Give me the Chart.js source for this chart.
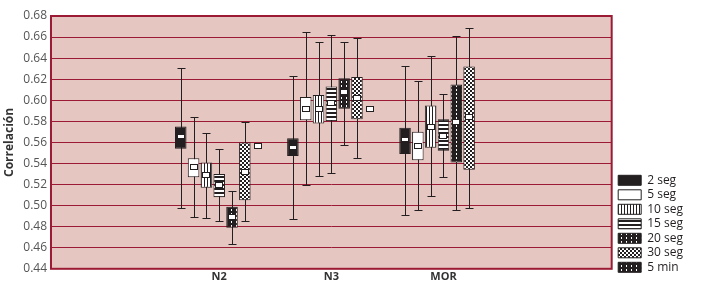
<!DOCTYPE html>
<html>
<head>
<meta charset="utf-8">
<script src="https://cdn.jsdelivr.net/npm/chart.js@4"></script>
<style>
  html, body { margin: 0; padding: 0; background: #fff; }
  #wrap { width: 710px; height: 304px; }
</style>
</head>
<body>
<div id="wrap"><canvas id="c" width="710" height="304"></canvas></div>
<script>
// categories (first and last are empty slots)
const categories = ["", "N2", "N3", "MOR", ""];
const seriesNames = ["2 seg", "5 seg", "10 seg", "15 seg", "20 seg", "30 seg", "5 min"];

// values per series for N2, N3, MOR
const minVals = [
  [0.498, 0.487, 0.491],
  [0.489, 0.520, 0.496],
  [0.488, 0.528, 0.509],
  [0.485, 0.531, 0.527],
  [0.464, 0.558, 0.496],
  [0.485, 0.545, 0.498],
  [null, null, null]
];
const q1Vals = [
  [0.554, 0.547, 0.549],
  [0.527, 0.581, 0.543],
  [0.517, 0.578, 0.555],
  [0.508, 0.580, 0.552],
  [0.479, 0.592, 0.541],
  [0.505, 0.582, 0.534],
  [null, null, null]
];
const medVals = [
  [0.565, 0.555, 0.562],
  [0.537, 0.592, 0.557],
  [0.529, 0.592, 0.575],
  [0.520, 0.597, 0.566],
  [0.489, 0.608, 0.579],
  [0.532, 0.602, 0.584],
  [0.557, 0.592, null]
];
const q3Vals = [
  [0.575, 0.564, 0.574],
  [0.545, 0.603, 0.570],
  [0.541, 0.605, 0.595],
  [0.530, 0.613, 0.582],
  [0.499, 0.621, 0.615],
  [0.560, 0.622, 0.632],
  [null, null, null]
];
const maxVals = [
  [0.631, 0.623, 0.633],
  [0.584, 0.665, 0.618],
  [0.569, 0.655, 0.642],
  [0.554, 0.662, 0.606],
  [0.514, 0.655, 0.661],
  [0.579, 0.659, 0.669],
  [null, null, null]
];
const yTicks = [0.44, 0.68, 0.02];

const canvas = document.getElementById("c");
const ctx = canvas.getContext("2d");
const DARK = "#231f20";

// pattern helper
function tile(w, h, draw) {
  const t = document.createElement("canvas");
  t.width = w; t.height = h;
  const g = t.getContext("2d");
  g.fillStyle = "#fff";
  g.fillRect(0, 0, w, h);
  g.fillStyle = DARK;
  draw(g);
  return ctx.createPattern(t, "repeat");
}
const vStripes = tile(3, 3, g => g.fillRect(0, 0, 1, 3));
const hStripes = tile(4, 4, g => g.fillRect(0, 0, 4, 2));
const checker = tile(4, 4, g => { g.fillRect(0, 0, 2, 2); g.fillRect(2, 2, 2, 2); });
const dotted = tile(5, 4, g => { g.fillRect(0, 0, 5, 4); g.fillStyle = "#fff"; g.fillRect(1, 1, 1, 2); });

const fills = [DARK, "#ffffff", vStripes, hStripes, dotted, checker, dotted];

function pad(arr) { return [null].concat(arr, [null]); }

const datasets = seriesNames.map((name, s) => ({
  label: name,
  data: pad(q1Vals[s].map((q, i) => (q == null ? null : [q, q3Vals[s][i]]))),
  backgroundColor: fills[s],
  borderColor: DARK,
  borderWidth: 1,
  borderSkipped: false
}));

// background, frame, whiskers and median markers
const boxPlugin = {
  id: "boxExtras",
  afterLayout(chart) {
    // legend sits a bit off the plot, bottom aligned with it
    const L = chart.legend, a = chart.chartArea;
    const h = L.bottom - L.top, w = L.right - L.left;
    L.left = a.right + 4; L.right = L.left + w;
    L.bottom = a.bottom + 7; L.top = L.bottom - h;
  },
  beforeDraw(chart) {
    const a = chart.chartArea, c = chart.ctx;
    c.save();
    c.fillStyle = "#e5c6c0";
    c.fillRect(a.left, a.top, a.right - a.left, a.bottom - a.top);
    c.restore();
  },
  beforeDatasetsDraw(chart) {
    const c = chart.ctx, y = chart.scales.y;
    c.save();
    c.strokeStyle = DARK;
    c.lineWidth = 1;
    seriesNames.forEach((n, s) => {
      const meta = chart.getDatasetMeta(s);
      for (let i = 0; i < 3; i++) {
        const lo = minVals[s][i], hi = maxVals[s][i];
        if (lo == null || hi == null) continue;
        const x = Math.round(meta.data[i + 1].x) + 0.5;
        const y1 = Math.round(y.getPixelForValue(hi)) + 0.5;
        const y2 = Math.round(y.getPixelForValue(lo)) + 0.5;
        c.beginPath();
        c.moveTo(x, y1); c.lineTo(x, y2);
        c.moveTo(x - 4, y1); c.lineTo(x + 4, y1);
        c.moveTo(x - 4, y2); c.lineTo(x + 4, y2);
        c.stroke();
      }
    });
    c.restore();
  },
  afterDatasetsDraw(chart) {
    const c = chart.ctx, y = chart.scales.y;
    c.save();
    seriesNames.forEach((n, s) => {
      const meta = chart.getDatasetMeta(s);
      for (let i = 0; i < 3; i++) {
        const m = medVals[s][i];
        if (m == null) continue;
        const x = Math.round(meta.data[i + 1].x);
        const py = Math.round(y.getPixelForValue(m));
        c.fillStyle = "#fff";
        if (s === 0) {
          c.fillRect(x - 3, py - 2, 6, 3);
        } else {
          c.fillRect(x - 3.5, py - 2.5, 7, 5);
          c.strokeStyle = DARK;
          c.lineWidth = 1;
          c.strokeRect(x - 3.5, py - 2.5, 7, 5);
        }
      }
    });
    const a = chart.chartArea;
    c.strokeStyle = "#9b1b35";
    c.lineWidth = 2;
    c.strokeRect(a.left, a.top, a.right - a.left, a.bottom - a.top);
    c.restore();
  }
};

new Chart(canvas, {
  type: "bar",
  data: { labels: categories, datasets: datasets },
  plugins: [boxPlugin],
  options: {
    responsive: false,
    animation: false,
    events: [],
    layout: { padding: { top: 16, right: 21, bottom: 20, left: 2 } },
    datasets: { bar: { categoryPercentage: 0.8, barPercentage: 0.9, grouped: true } },
    plugins: {
      tooltip: { enabled: false },
      legend: {
        position: "right",
        align: "end",
        labels: {
          boxWidth: 23,
          boxHeight: 10,
          padding: 2.5,
          color: DARK,
          font: { family: "'Open Sans', sans-serif", size: 12 }
        }
      }
    },
    scales: {
      x: {
        grid: { display: false, drawTicks: false, tickLength: 0 },
        border: { display: false },
        ticks: {
          color: "#333",
          font: { family: "'Open Sans', sans-serif", size: 11, weight: "bold" },
          padding: 1
        }
      },
      y: {
        min: yTicks[0],
        max: yTicks[1],
        afterFit(axis) { axis.width = 49; },
        ticks: {
          stepSize: yTicks[2],
          color: "#555",
          padding: 4,
          font: { family: "'Open Sans', sans-serif", size: 12 },
          callback: v => v.toFixed(2)
        },
        grid: { color: "#9b1b35", lineWidth: 1, drawTicks: false },
        border: { display: false },
        title: {
          display: true,
          text: "Correlación",
          color: "#333",
          padding: 0,
          font: { family: "'Open Sans', sans-serif", size: 12, weight: "bold" }
        }
      }
    }
  }
});
</script>
</body>
</html>
